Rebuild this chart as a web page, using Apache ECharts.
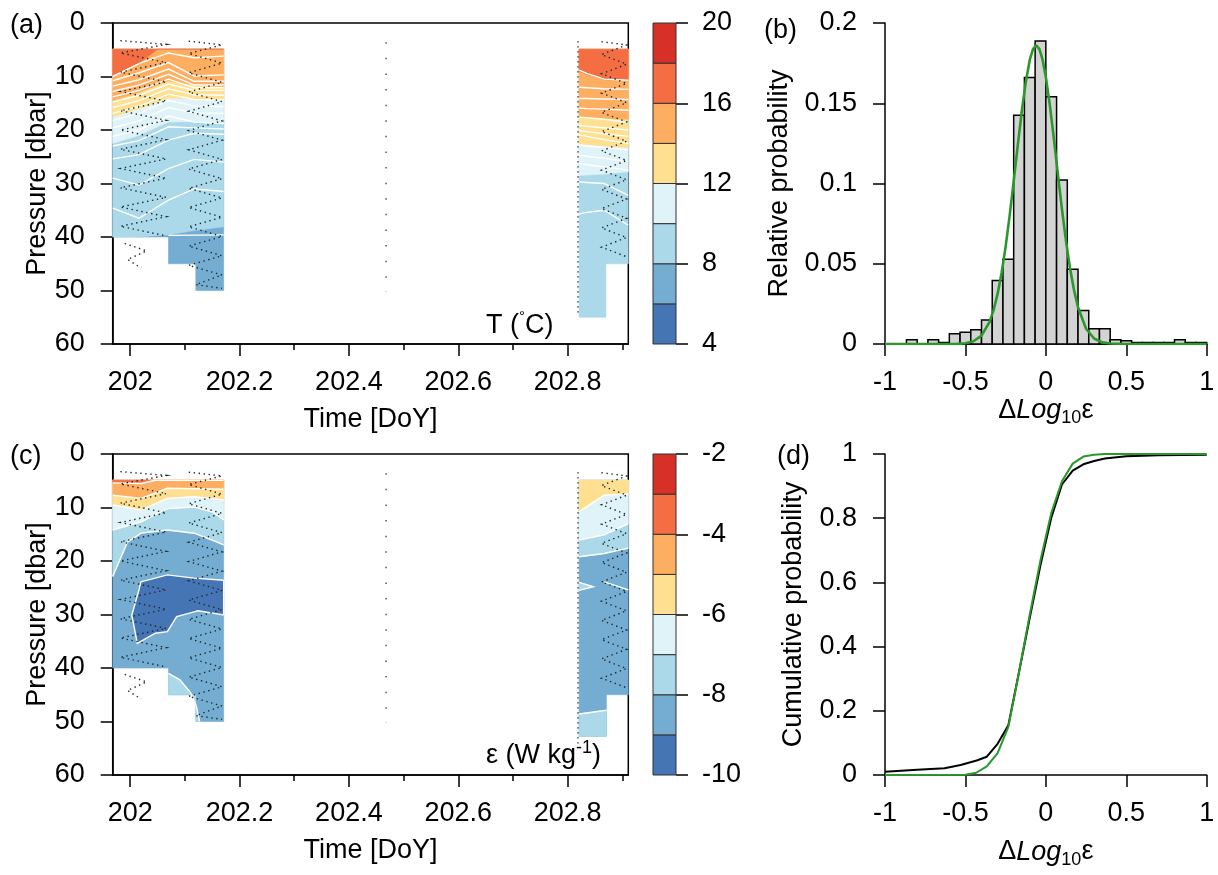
<!DOCTYPE html>
<html>
<head>
<meta charset="utf-8">
<script src="https://cdn.jsdelivr.net/npm/echarts@6/dist/echarts.min.js"></script>
<style>
  html, body { margin: 0; padding: 0; background: #fff; }
  #chart { width: 1218px; height: 875px; }
</style>
</head>
<body>
<div id="chart"></div>
<script>
const FONT = '"Liberation Sans", Arial, Helvetica, sans-serif';
const INK = '#000';

// ---- axes / scales ----
const timeRange = [201.968, 202.911];
const timeMajorTicks = [202, 202.2, 202.4, 202.6, 202.8];
const timeMinorTicks = [202.1, 202.3, 202.5, 202.7, 202.9];
const fillTop = 4.9;
const tempLevels = [4, 6, 8, 10, 12, 14, 16, 18, 20];
const epsLevels = [-10, -9, -8, -7, -6, -5, -4, -3, -2];
const binColors = ['#4575b4', '#74add1', '#abd9e9', '#e0f3f8', '#fee090', '#fdae61', '#f46d43', '#d73027'];

// ---- (a) temperature, first burst ----
const tempOutline1 = [[201.968, 4.9], [202.171, 4.9], [202.171, 50], [202.12, 50], [202.12, 45], [202.07, 45], [202.07, 40], [201.968, 40]];
const tempBase1 = 6;
const tempIso1 = [
  [8, [[201.968, 40], [202.016, 40], [202.07, 39.6], [202.117, 38.8], [202.171, 38.1]]],
  [10, [[201.968, 22.5], [202.016, 21], [202.07, 18.5], [202.117, 18.4], [202.171, 18.8]]],
  [12, [[201.968, 17.5], [202.016, 16], [202.07, 14], [202.117, 14.2], [202.171, 14.4]]],
  [14, [[201.968, 14.5], [202.016, 13], [202.07, 10.8], [202.117, 11.6], [202.171, 11.9]]],
  [16, [[201.968, 10], [202.016, 7.5], [202.05, 4.9], [202.171, 4.9]]]
];
const tempLineTimes1 = [201.968, 202.016, 202.07, 202.117, 202.171];
const tempLines1 = [
  [10.0, 7.6, 5.6, 6.5, 6.2],
  [10.8, 9.3, 7.4, 9.9, 9.7],
  [11.8, 10.6, 8.6, 10.9, 10.9],
  [12.8, 11.6, 9.6, 11.6, 11.6],
  [13.8, 12.6, 10.5, 12.1, 12.1],
  [14.8, 13.5, 11.4, 12.6, 12.6],
  [15.8, 14.5, 12.3, 13.4, 13.5],
  [16.9, 15.6, 13.3, 14.3, 14.4],
  [18.2, 16.9, 14.5, 15.5, 15.6],
  [19.6, 18.3, 15.8, 16.8, 16.9],
  [21.2, 20.0, 17.4, 18.5, 18.8],
  [23.0, 22.0, 19.4, 19.6, 19.8],
  [25.4, 24.6, 21.9, 20.6, 20.8],
  [29.0, 30.3, 27.2, 25.5, 26.0],
  [34.6, 36.5, 33.1, 31.0, 31.5]
];
const tempBottomLine1 = [[202.07, 39.7], [202.171, 39.6]];

// ---- (a) temperature, second burst ----
const tempOutline2 = [[202.821, 4.9], [202.911, 4.9], [202.911, 45], [202.87, 45], [202.87, 55], [202.821, 55]];
const tempBase2 = 8;
const tempIso2 = [
  [10, [[202.821, 28.5], [202.87, 28.2], [202.911, 27.8]]],
  [12, [[202.821, 22.6], [202.87, 23.0], [202.911, 23.3]]],
  [14, [[202.821, 17.6], [202.87, 17.9], [202.911, 18.0]]],
  [16, [[202.821, 9.0], [202.835, 9.6], [202.87, 10.6], [202.911, 10.7]]]
];
const tempLineTimes2 = [202.821, 202.835, 202.867, 202.911];
const tempLines2 = [
  [8.8, 9.4, 10.5, 10.7],
  [12.0, 12.1, 12.3, 12.4],
  [14.1, 14.1, 14.2, 14.3],
  [15.9, 16.0, 16.1, 16.3],
  [17.6, 17.7, 18.0, 18.6],
  [19.1, 19.3, 19.6, 20.0],
  [20.1, 20.3, 20.7, 21.2],
  [20.9, 21.2, 21.8, 22.5],
  [22.8, 23.0, 23.3, 23.7],
  [24.7, 24.9, 25.3, 25.9],
  [26.2, 26.5, 26.9, 27.5],
  [29.7, 29.8, 30.0, 32.2],
  [35.7, 35.4, 35.0, 37.8]
];

// ---- (c) dissipation, first burst ----
const epsOutline1 = [[201.968, 4.9], [202.171, 4.9], [202.171, 50], [202.12, 50], [202.12, 45], [202.07, 45], [202.07, 40], [201.968, 40]];
const epsBase1 = -9;
const epsBlob1 = [[202.0195, 23.9], [202.068, 22.6], [202.117, 23.2], [202.171, 23.6], [202.171, 30.1], [202.124, 29.3], [202.117, 29.5], [202.085, 30.4], [202.068, 33.2], [202.046, 33.5], [202.013, 35.4], [202.003, 30.1], [202.016, 25.4], [202.0195, 23.9]];
const epsLowPatch1 = [[202.07, 41.0], [202.091, 42.2], [202.111, 44.7], [202.121, 47.2], [202.127, 50], [202.12, 50], [202.12, 45], [202.07, 45]];
const epsLowLine1 = [[202.07, 41.0], [202.091, 42.2], [202.111, 44.7], [202.121, 47.2], [202.127, 50]];
const epsIso1 = [
  [-8, [[201.968, 22.9], [201.995, 16.5], [202.02, 14.8], [202.068, 14.2], [202.117, 14.8], [202.15, 16.1], [202.171, 17.0]]],
  [-7, [[201.968, 14.2], [202.02, 12.7], [202.068, 10.2], [202.117, 9.9], [202.15, 10.8], [202.171, 12.3]]],
  [-6, [[201.968, 9.5], [202.02, 10.5], [202.068, 8.3], [202.117, 8.0], [202.171, 8.6]]],
  [-5, [[201.968, 7.7], [202.02, 8.3], [202.068, 6.4], [202.117, 6.5], [202.171, 6.6]]],
  [-4, [[201.968, 5.4], [202.02, 5.5], [202.046, 4.9], [202.171, 4.9]]]
];

// ---- (c) dissipation, second burst ----
const epsOutline2 = [[202.821, 4.9], [202.911, 4.9], [202.911, 45], [202.871, 45], [202.871, 52.8], [202.821, 52.8]];
const epsBase2 = -9;
const epsNotch2 = [[202.821, 24.0], [202.847, 24.8], [202.821, 25.5]];
const epsLowPatch2 = [[202.821, 48.6], [202.871, 47.9], [202.871, 52.8], [202.821, 52.8]];
const epsExtraLines2 = [[[202.867, 23.9], [202.911, 25.4]], [[202.821, 48.6], [202.871, 47.9]]];
const epsIso2 = [
  [-8, [[202.821, 19.2], [202.867, 18.6], [202.911, 17.6]]],
  [-7, [[202.821, 16.1], [202.867, 15.1], [202.911, 13.0]]],
  [-6, [[202.821, 10.8], [202.84, 9.5], [202.867, 7.7], [202.911, 7.5]]]
];

// ---- sample locations (dotted profiler tracks) ----
const track1 = [[201.982, 3.3], [202.066, 4.0], [201.982, 5.6], [202.066, 7.4], [201.982, 9.2], [202.066, 11.0], [201.982, 12.8], [202.066, 14.6], [201.982, 16.4], [202.066, 18.2], [201.982, 20.0], [202.066, 21.8], [201.982, 23.6], [202.066, 25.4], [201.982, 27.2], [202.066, 29.0], [201.982, 30.8], [202.066, 32.6], [201.982, 34.4], [202.066, 36.2], [201.982, 38.0], [202.066, 39.8]];
const track1b = [[201.99, 41.2], [202.03, 42.6], [201.995, 44.2], [202.02, 45.8]];
const track2 = [[202.107, 3.4], [202.168, 4.1], [202.107, 5.7], [202.168, 7.5], [202.107, 9.3], [202.168, 11.1], [202.107, 12.9], [202.168, 14.7], [202.107, 16.5], [202.168, 18.3], [202.107, 20.1], [202.168, 21.9], [202.107, 23.7], [202.168, 25.5], [202.107, 27.3], [202.168, 29.1], [202.107, 30.9], [202.168, 32.7], [202.107, 34.5], [202.168, 36.3], [202.107, 38.1], [202.168, 39.9], [202.107, 41.7], [202.168, 43.5], [202.107, 45.3], [202.168, 47.1], [202.12, 48.9], [202.168, 49.6]];
const track3 = [[202.819, 3.4], [202.819, 54.6]];
const track4 = [[202.862, 3.5], [202.908, 4.1], [202.862, 5.9], [202.908, 7.7], [202.862, 9.5], [202.908, 11.3], [202.862, 13.1], [202.908, 14.9], [202.862, 16.7], [202.908, 18.5], [202.862, 20.3], [202.908, 22.1], [202.862, 23.9], [202.908, 25.7], [202.862, 27.5], [202.908, 29.3], [202.862, 31.1], [202.908, 32.9], [202.862, 34.7], [202.908, 36.5], [202.862, 38.3], [202.908, 40.1], [202.862, 41.9], [202.908, 43.7]];
const midColumn = [[202.468, 3.6], [202.468, 50.3]];

// ---- (b) histogram + gaussian fit ----
const histStart = -1;
const histBinWidth = 2 / 30;
const histProb = [0, 0, 0.0027, 0, 0.0027, 0.001, 0.0064, 0.0073, 0.0089, 0.015, 0.0396, 0.0528, 0.1426, 0.166, 0.1888, 0.154, 0.1022, 0.0466, 0.0209, 0.0095, 0.0095, 0.0027, 0.002, 0.001, 0.001, 0.001, 0.001, 0.0027, 0.001, 0.001];
const fitX = [-1, -0.7, -0.6, -0.55, -0.5, -0.45, -0.4, -0.35, -0.325, -0.3, -0.275, -0.25, -0.225, -0.2, -0.175, -0.15, -0.125, -0.1, -0.08, -0.06, -0.04, -0.02, 0, 0.025, 0.05, 0.075, 0.1, 0.125, 0.15, 0.175, 0.2, 0.25, 0.3, 0.35, 0.4, 0.5, 0.7, 1];
const fitY = [0, 0, 0.00002, 0.0001, 0.0005, 0.0017, 0.0052, 0.0137, 0.0211, 0.0312, 0.0444, 0.0607, 0.080, 0.1013, 0.1234, 0.1447, 0.163, 0.177, 0.1837, 0.186, 0.1837, 0.177, 0.1664, 0.1487, 0.1278, 0.1057, 0.0841, 0.0644, 0.0474, 0.0336, 0.0229, 0.0095, 0.0034, 0.001, 0.0003, 0, 0, 0];

// ---- (d) cumulative ----
const cdfObsX = [-1, -0.8, -0.63, -0.53, -0.43, -0.367, -0.3, -0.233, -0.167, -0.1, -0.033, 0.033, 0.1, 0.167, 0.233, 0.3, 0.367, 0.5, 0.7, 1];
const cdfObsY = [0.01, 0.016, 0.021, 0.031, 0.045, 0.057, 0.097, 0.155, 0.32, 0.49, 0.655, 0.8, 0.905, 0.948, 0.968, 0.978, 0.986, 0.993, 0.996, 0.998];
const cdfFitX = [-1, -0.5, -0.433, -0.367, -0.3, -0.233, -0.167, -0.1, -0.033, 0.033, 0.1, 0.167, 0.233, 0.3, 0.367, 1];
const cdfFitY = [0, 0.001, 0.007, 0.027, 0.068, 0.15, 0.32, 0.5, 0.67, 0.815, 0.915, 0.97, 0.992, 0.998, 1, 1];

// ---------- helpers ----------
const zip = (xs, ys) => xs.map((x, i) => [x, ys[i]]);
const colorOf = (levels, lv) => binColors[levels.indexOf(lv)];

function fills(levels, outline, base, patches, iso) {
  const out = [{ pts: outline, color: colorOf(levels, base) }];
  patches.forEach(p => out.push({ pts: p[1], color: colorOf(levels, p[0]) }));
  iso.forEach(([lv, line]) => {
    const l = line[0][0], r = line[line.length - 1][0];
    out.push({ pts: line.concat([[r, fillTop], [l, fillTop]]), color: colorOf(levels, lv) });
  });
  return out;
}

function polySeries(polys, xi, yi) {
  return {
    type: 'custom', xAxisIndex: xi, yAxisIndex: yi, silent: true, clip: true,
    data: polys.map((p, i) => [p.pts[0][0], p.pts[0][1], i]),
    renderItem: (params, api) => {
      const p = polys[api.value(2)];
      return { type: 'polygon', shape: { points: p.pts.map(q => api.coord(q)) },
        style: { fill: p.color, stroke: p.color, lineWidth: 0.6 } };
    }
  };
}

function pathSeries(paths, xi, yi, style) {
  return {
    type: 'custom', xAxisIndex: xi, yAxisIndex: yi, silent: true, clip: true,
    data: paths.map((p, i) => [p[0][0], p[0][1], i]),
    renderItem: (params, api) => ({
      type: 'polyline', shape: { points: paths[api.value(2)].map(q => api.coord(q)) },
      style: Object.assign({ fill: null }, style)
    })
  };
}

function colorbarSeries(levels, xi, yi) {
  return {
    type: 'custom', xAxisIndex: xi, yAxisIndex: yi, silent: true,
    data: levels.slice(0, -1).map((lv, i) => [0, lv, levels[i + 1], i]),
    renderItem: (params, api) => {
      const a = api.coord([0, api.value(2)]), b = api.coord([1, api.value(1)]);
      return { type: 'rect', shape: { x: a[0], y: a[1], width: b[0] - a[0], height: b[1] - a[1] },
        style: { fill: binColors[api.value(3)], stroke: '#333', lineWidth: 1 } };
    }
  };
}

const tempPolys = fills(tempLevels, tempOutline1, tempBase1, [], tempIso1)
  .concat(fills(tempLevels, tempOutline2, tempBase2, [], tempIso2));
const tempWhite = tempLines1.map(d => zip(tempLineTimes1, d))
  .concat(tempLines2.map(d => zip(tempLineTimes2, d)), [tempBottomLine1]);

const epsPolys = fills(epsLevels, epsOutline1, epsBase1, [[-10, epsBlob1], [-8, epsLowPatch1]], epsIso1)
  .concat(fills(epsLevels, epsOutline2, epsBase2, [[-8, epsNotch2], [-8, epsLowPatch2]], epsIso2));
const epsWhite = epsIso1.map(c => c[1]).concat(epsIso2.map(c => c[1]), [epsBlob1, epsLowLine1, epsNotch2], epsExtraLines2);

const tracks = [track1, track1b, track2, track3, track4];
const histData = histProb.map((h, i) => [histStart + i * histBinWidth, histStart + (i + 1) * histBinWidth, h]);

// ---------- option ----------
const lineSt = { color: INK, width: 1.5 };
const labelSt = { color: INK, fontSize: 27, fontFamily: FONT };
const nameSt = { color: INK, fontSize: 27, fontFamily: FONT };
const dlogName = '{n|Δ}{i|Log}{s|10}{n|ε}';
const dlogStyle = {
  color: INK, fontSize: 27, fontFamily: FONT,
  rich: {
    n: { color: INK, fontSize: 27, fontFamily: FONT, lineHeight: 34 },
    i: { color: INK, fontSize: 27, fontFamily: FONT, fontStyle: 'italic', lineHeight: 34 },
    s: { color: INK, fontSize: 18, fontFamily: FONT, lineHeight: 16, verticalAlign: 'bottom' }
  }
};

function timeAxis(grid) {
  return [{
    gridIndex: grid, type: 'value', position: 'bottom', min: timeRange[0], max: timeRange[1],
    axisLine: { onZero: false, lineStyle: lineSt }, splitLine: { show: false },
    axisTick: { length: 12, lineStyle: lineSt, customValues: timeMajorTicks },
    axisLabel: Object.assign({ margin: 25, customValues: timeMajorTicks }, labelSt),
    name: 'Time [DoY]', nameLocation: 'middle', nameGap: 62, nameTextStyle: nameSt
  }, {
    gridIndex: grid, type: 'value', position: 'bottom', min: timeRange[0], max: timeRange[1],
    axisLine: { show: false, onZero: false }, splitLine: { show: false },
    axisTick: { length: 6, lineStyle: lineSt, customValues: timeMinorTicks },
    axisLabel: { show: false }
  }];
}
function cbarX(grid) {
  return { gridIndex: grid, type: 'value', min: 0, max: 1, show: false };
}
function cbarY(grid, levels) {
  return {
    gridIndex: grid, type: 'value', position: 'right', min: levels[0], max: levels[levels.length - 1],
    interval: (levels[levels.length - 1] - levels[0]) / 4,
    axisLine: { show: false, onZero: false }, splitLine: { show: false },
    axisTick: { show: true, length: 12, lineStyle: lineSt },
    axisLabel: Object.assign({ margin: 26 }, labelSt)
  };
}
function probX(grid, gap) {
  return {
    gridIndex: grid, type: 'value', min: -1, max: 1, interval: 0.5,
    axisLine: { onZero: false, lineStyle: lineSt }, splitLine: { show: false },
    axisTick: { length: 12, lineStyle: lineSt },
    axisLabel: Object.assign({ margin: 25 }, labelSt),
    name: dlogName, nameLocation: 'middle', nameGap: gap, nameTextStyle: dlogStyle
  };
}
function pressureY(grid) {
  return {
    gridIndex: grid, type: 'value', inverse: true, min: 0, max: 60, interval: 10,
    axisLine: { onZero: false, lineStyle: lineSt }, splitLine: { show: false },
    axisTick: { length: 12, lineStyle: lineSt },
    axisLabel: Object.assign({ margin: 28 }, labelSt),
    name: 'Pressure [dbar]', nameLocation: 'middle', nameGap: 62, nameTextStyle: nameSt
  };
}
function probY(grid, max, interval, name, gap) {
  return {
    gridIndex: grid, type: 'value', min: 0, max: max, interval: interval,
    axisLine: { onZero: false, lineStyle: lineSt }, splitLine: { show: false },
    axisTick: { length: 12, lineStyle: lineSt },
    axisLabel: Object.assign({ margin: 28 }, labelSt),
    name: name, nameLocation: 'middle', nameGap: gap, nameTextStyle: nameSt
  };
}

const white = { stroke: '#fff', lineWidth: 1.4 };
const dotted = { stroke: '#1a2a30', lineWidth: 1.4, lineDash: [1.4, 3.6] };
const sparse = { stroke: '#555', lineWidth: 1.5, lineDash: [1.5, 14.1] };
const green = '#2a982a';

const option = {
  animation: false,
  backgroundColor: '#fff',
  grid: [
    { left: 112.7, top: 23, width: 515.6, height: 321, show: true, borderColor: INK, borderWidth: 1.5 },
    { left: 653, top: 23, width: 23, height: 321 },
    { left: 885, top: 23, width: 321.7, height: 321 },
    { left: 112.7, top: 454, width: 515.6, height: 321, show: true, borderColor: INK, borderWidth: 1.5 },
    { left: 653, top: 454, width: 23, height: 321 },
    { left: 885, top: 454, width: 321.7, height: 321 }
  ],
  xAxis: [].concat(timeAxis(0), [cbarX(1), probX(2, 46)], timeAxis(3), [cbarX(4), probX(5, 60)]),
  yAxis: [
    pressureY(0), cbarY(1, tempLevels), probY(2, 0.2, 0.05, 'Relative probability', 92),
    pressureY(3), cbarY(4, epsLevels), probY(5, 1, 0.2, 'Cumulative probability', 78)
  ],
  series: [
    polySeries(tempPolys, 0, 0),
    pathSeries(tempWhite, 0, 0, white),
    pathSeries(tracks, 0, 0, dotted),
    pathSeries([midColumn], 0, 0, sparse),
    colorbarSeries(tempLevels, 2, 1),
    {
      type: 'custom', xAxisIndex: 3, yAxisIndex: 2, silent: true, data: histData,
      renderItem: (params, api) => {
        const a = api.coord([api.value(0), api.value(2)]), b = api.coord([api.value(1), 0]);
        return { type: 'rect', shape: { x: a[0], y: a[1], width: b[0] - a[0], height: b[1] - a[1] },
          style: { fill: '#d3d3d3', stroke: INK, lineWidth: 1.5 } };
      }
    },
    { type: 'line', xAxisIndex: 3, yAxisIndex: 2, data: zip(fitX, fitY), showSymbol: false, silent: true,
      lineStyle: { color: green, width: 2.6 } },
    polySeries(epsPolys, 4, 3),
    pathSeries(epsWhite, 4, 3, white),
    pathSeries(tracks, 4, 3, dotted),
    pathSeries([midColumn], 4, 3, sparse),
    colorbarSeries(epsLevels, 6, 4),
    { type: 'line', xAxisIndex: 7, yAxisIndex: 5, data: zip(cdfObsX, cdfObsY), showSymbol: false, silent: true,
      lineStyle: { color: INK, width: 2 } },
    { type: 'line', xAxisIndex: 7, yAxisIndex: 5, data: zip(cdfFitX, cdfFitY), showSymbol: false, silent: true,
      lineStyle: { color: green, width: 2 } }
  ],
  graphic: [
    { type: 'text', x: 10, y: 26, style: { text: '(a)', fontSize: 27, fontFamily: FONT, fill: INK, verticalAlign: 'middle' } },
    { type: 'text', x: 764, y: 31, style: { text: '(b)', fontSize: 27, fontFamily: FONT, fill: INK, verticalAlign: 'middle' } },
    { type: 'text', x: 10, y: 457, style: { text: '(c)', fontSize: 27, fontFamily: FONT, fill: INK, verticalAlign: 'middle' } },
    { type: 'text', x: 777, y: 457, style: { text: '(d)', fontSize: 27, fontFamily: FONT, fill: INK, verticalAlign: 'middle' } },
    { type: 'text', x: 486, y: 326, style: {
      text: '{n|T (}{s|°}{n|C)}', fill: INK, verticalAlign: 'middle',
      rich: { n: { fontSize: 27, fontFamily: FONT, fill: INK, lineHeight: 34 },
              s: { fontSize: 15, fontFamily: FONT, fill: INK, lineHeight: 14, verticalAlign: 'top' } } } },
    { type: 'text', x: 486, y: 756, style: {
      text: '{n|ε (W kg}{s|-1}{n|)}', fill: INK, verticalAlign: 'middle',
      rich: { n: { fontSize: 27, fontFamily: FONT, fill: INK, lineHeight: 34 },
              s: { fontSize: 18, fontFamily: FONT, fill: INK, lineHeight: 16, verticalAlign: 'top' } } } }
  ]
};

const chart = echarts.init(document.getElementById('chart'));
chart.setOption(option);
</script>
</body>
</html>
